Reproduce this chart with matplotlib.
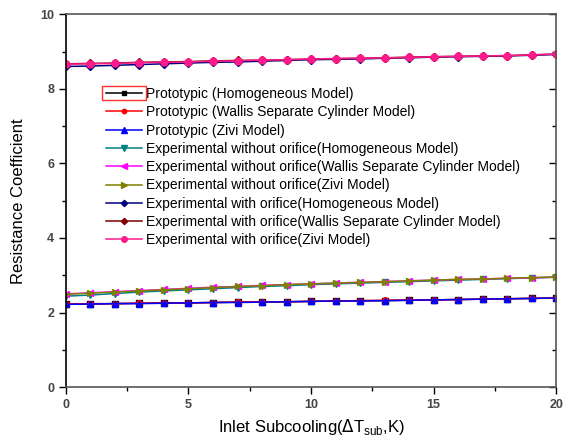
import matplotlib
matplotlib.use("Agg")
import matplotlib.pyplot as plt
import matplotlib.patches as mpatches
from matplotlib.ticker import MultipleLocator
import numpy as np

plt.rcParams['font.family'] = ['Liberation Sans', 'DejaVu Sans']

# inlet subcooling, K
dT_sub = list(range(0, 21))

# prototypic loop
proto_homo = [2.23, 2.23, 2.24, 2.25, 2.26, 2.26, 2.27, 2.28, 2.28, 2.29, 2.30,
              2.31, 2.32, 2.32, 2.33, 2.34, 2.35, 2.36, 2.37, 2.38, 2.39]
proto_wallis = [2.23, 2.24, 2.24, 2.25, 2.25, 2.26, 2.27, 2.28, 2.29, 2.29, 2.30,
                2.31, 2.32, 2.33, 2.34, 2.34, 2.35, 2.36, 2.37, 2.38, 2.39]
proto_zivi = [2.22, 2.23, 2.24, 2.24, 2.25, 2.26, 2.27, 2.27, 2.28, 2.29, 2.30,
              2.31, 2.31, 2.32, 2.33, 2.34, 2.35, 2.36, 2.37, 2.38, 2.39]

# experimental loop without orifice
noor_homo = [2.44, 2.47, 2.51, 2.55, 2.58, 2.61, 2.64, 2.67, 2.70, 2.72, 2.75,
             2.77, 2.79, 2.81, 2.83, 2.85, 2.87, 2.89, 2.91, 2.93, 2.95]
noor_wallis = [2.50, 2.53, 2.56, 2.59, 2.62, 2.65, 2.68, 2.70, 2.73, 2.75, 2.77,
               2.79, 2.81, 2.83, 2.85, 2.87, 2.89, 2.90, 2.92, 2.93, 2.95]
noor_zivi = [2.49, 2.52, 2.55, 2.58, 2.61, 2.64, 2.67, 2.70, 2.72, 2.75, 2.77,
             2.79, 2.81, 2.83, 2.85, 2.87, 2.89, 2.90, 2.92, 2.94, 2.95]

# experimental loop with orifice
or_homo = [8.60, 8.61, 8.63, 8.65, 8.67, 8.69, 8.71, 8.72, 8.74, 8.76, 8.78,
           8.79, 8.80, 8.82, 8.83, 8.85, 8.86, 8.87, 8.88, 8.90, 8.92]
or_wallis = [8.67, 8.68, 8.69, 8.71, 8.72, 8.73, 8.75, 8.76, 8.77, 8.78, 8.80,
             8.81, 8.82, 8.83, 8.85, 8.86, 8.87, 8.88, 8.89, 8.91, 8.93]
or_zivi = [8.66, 8.67, 8.68, 8.70, 8.71, 8.72, 8.74, 8.75, 8.77, 8.78, 8.80,
           8.81, 8.82, 8.83, 8.84, 8.86, 8.87, 8.88, 8.89, 8.91, 8.93]

series = [
    ("Prototypic (Homogeneous Model)", proto_homo, "#000000", "s", 4),
    ("Prototypic (Wallis Separate Cylinder Model)", proto_wallis, "#ff0000", "o", 4),
    ("Prototypic (Zivi Model)", proto_zivi, "#0000ff", "^", 5),
    ("Experimental without orifice(Homogeneous Model)", noor_homo, "#008080", "v", 5),
    ("Experimental without orifice(Wallis Separate Cylinder Model)", noor_wallis, "#ff00ff", "<", 5),
    ("Experimental without orifice(Zivi Model)", noor_zivi, "#808000", ">", 5),
    ("Experimental with orifice(Homogeneous Model)", or_homo, "#000080", "D", 4),
    ("Experimental with orifice(Wallis Separate Cylinder Model)", or_wallis, "#800000", "D", 4),
    ("Experimental with orifice(Zivi Model)", or_zivi, "#ff1a8c", "o", 5),
]


def create_plot():
    fig = plt.figure(figsize=(5.63, 4.44), dpi=100)
    ax = fig.add_axes([0.117, 0.128, 0.871, 0.84])

    handles = []
    for label, vals, color, marker, ms in series:
        h, = ax.plot(dT_sub, vals, color=color, marker=marker, markersize=ms,
                     lw=1.1, label=label)
        handles.append(h)

    ax.set_xlim(0, 20)
    ax.set_ylim(0, 10)
    ax.xaxis.set_major_locator(MultipleLocator(5))
    ax.xaxis.set_minor_locator(MultipleLocator(2.5))
    ax.yaxis.set_major_locator(MultipleLocator(2))
    ax.yaxis.set_minor_locator(MultipleLocator(1))
    ax.tick_params(which='both', direction='out', labelsize=9, width=1)
    ax.tick_params(which='major', length=5)
    ax.tick_params(which='minor', length=3)
    for lbl in ax.get_xticklabels() + ax.get_yticklabels():
        lbl.set_fontweight('bold')
        lbl.set_color('#444444')

    # right axis ticks pointing inward
    ax.tick_params(axis='y', which='both', right=True)
    for t in ax.yaxis.get_major_ticks() + ax.yaxis.get_minor_ticks():
        t.tick2line.set_marker(matplotlib.lines.TICKLEFT)

    ax.spines['left'].set_color('black')
    for s in ['top', 'right', 'bottom']:
        ax.spines[s].set_color('#555555')
    for s in ax.spines.values():
        s.set_linewidth(1.2)

    ax.set_xlabel(r"Inlet Subcooling($\Delta$T$_{\mathregular{sub}}$,K)", fontsize=12)
    ax.set_ylabel("Resistance Coefficient", fontsize=12, labelpad=10)

    leg = ax.legend(handles=handles, loc='upper left', bbox_to_anchor=(0.07, 0.82),
                    frameon=False, fontsize=10, handlelength=2.6, labelspacing=0.31,
                    borderaxespad=0.0, handletextpad=0.3, markerscale=0.8)

    # red selection box around first legend handle
    fig.canvas.draw()
    bb = leg.legend_handles[0].get_window_extent().transformed(fig.transFigure.inverted())
    pad_x, pad_y = 0.003, 0.015
    rect = mpatches.Rectangle((bb.x0 - pad_x, bb.y0 - pad_y + (bb.height / 2)),
                              bb.width + 2 * pad_x, 2 * pad_y,
                              transform=fig.transFigure, fill=False,
                              edgecolor='#ff3030', lw=1.0)
    fig.patches.append(rect)

    fig.savefig("out.png", dpi=100)


create_plot()
